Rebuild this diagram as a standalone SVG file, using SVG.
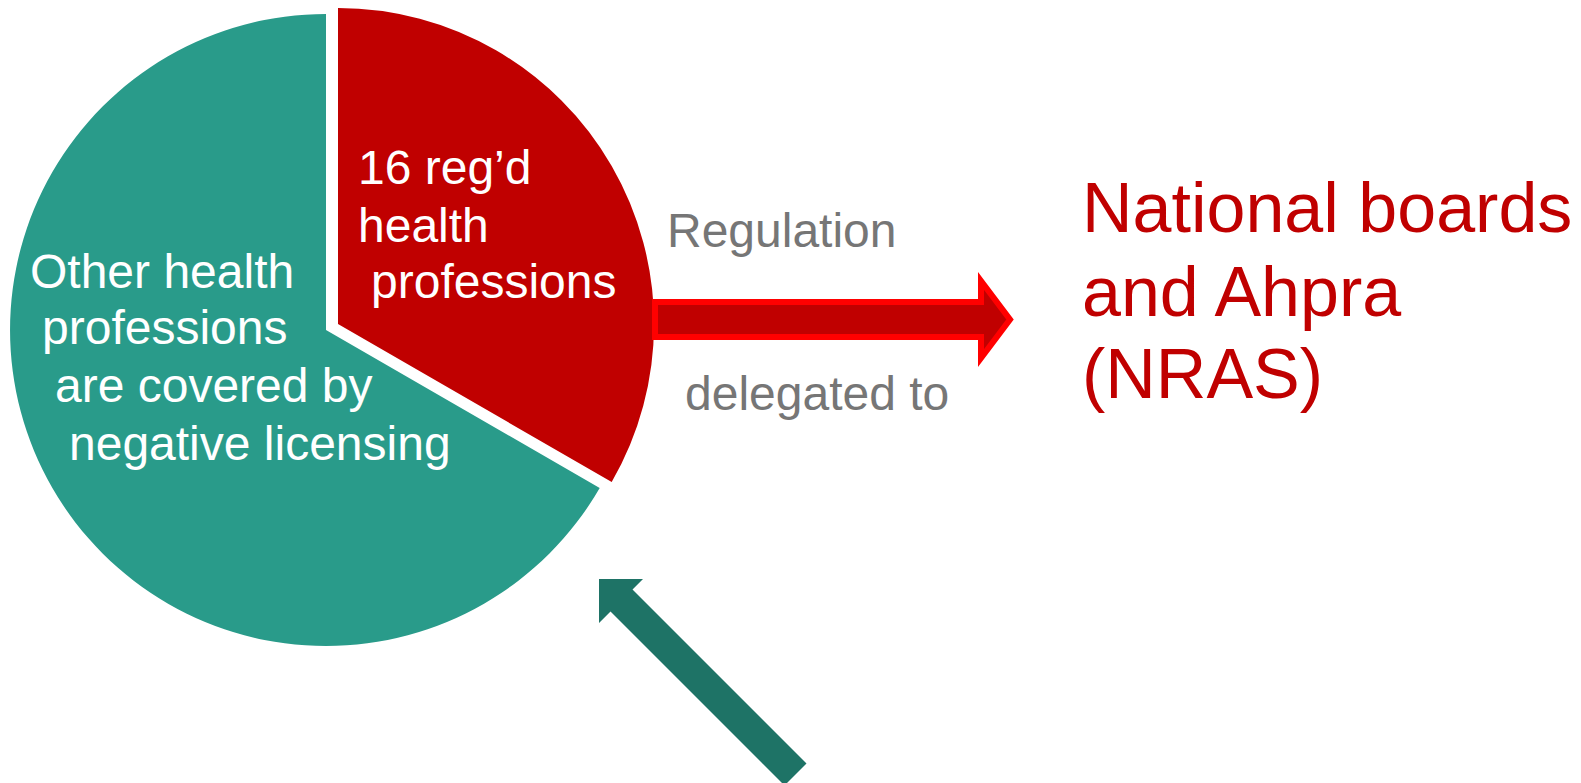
<svg xmlns="http://www.w3.org/2000/svg" width="1581" height="783" viewBox="0 0 1581 783">
  <style>
    .lbl { font-family: "Liberation Sans", Arial, sans-serif; font-size: 48px; }
    .white { fill: #FFFFFF; }
    .gray { fill: #767676; }
    .big { font-family: "Liberation Sans", Arial, sans-serif; font-size: 70px; fill: #C00000; }
  </style>
  <rect width="1581" height="783" fill="#FFFFFF"/>

  <!-- Pie: unregulated professions (two thirds) -->
  <g id="slice-other">
    <path d="M326,330 L326,14 A316,316 0 1 0 599.7,488 Z" fill="#299B8A"/>
    <text class="lbl white" x="30" y="288">Other health</text>
    <text class="lbl white" x="42" y="344">professions</text>
    <text class="lbl white" x="55" y="402">are covered by</text>
    <text class="lbl white" x="69" y="460">negative licensing</text>
  </g>

  <!-- Pie: registered professions (exploded third) -->
  <g id="slice-registered">
    <path d="M338,324 L338,8 A316,316 0 0 1 611.7,482 Z" fill="#C00000"/>
    <text class="lbl white" x="358" y="184">16 reg’d</text>
    <text class="lbl white" x="358" y="242">health</text>
    <text class="lbl white" x="371" y="298">professions</text>
  </g>

  <!-- Destination label -->
  <g id="national-boards">
    <text class="big" x="1082" y="232">National boards</text>
    <text class="big" x="1082" y="316">and Ahpra</text>
    <text class="big" x="1082" y="398">(NRAS)</text>
  </g>

  <!-- Connectors -->
  <g id="connectors">
    <polygon points="655,302 981,302 981,281 1010,319.5 981,358 981,337 655,337" fill="#C00000" stroke="#FF0000" stroke-width="6" stroke-linejoin="miter"/>
    <text class="lbl gray" x="667" y="247">Regulation</text>
    <text class="lbl gray" x="685" y="410">delegated to</text>
    <polygon points="599,579 643,579 632.5,589.5 806.5,763.5 784.5,785.5 610.5,611.5 599,623" fill="#1E7366"/>
  </g>
</svg>
